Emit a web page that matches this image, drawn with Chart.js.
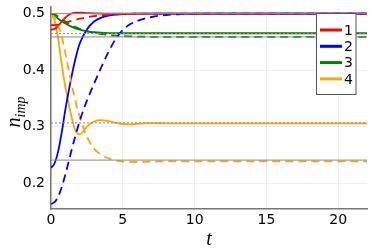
<!DOCTYPE html>
<html>
<head>
<meta charset="utf-8">
<script src="https://cdn.jsdelivr.net/npm/chart.js@4.4.1/dist/chart.umd.min.js"></script>
<style>
  html, body { margin: 0; padding: 0; background: #fff; }
  #wrap { width: 374px; height: 249px; position: relative; }
</style>
</head>
<body>
<div id="wrap"><canvas id="c" width="374" height="249"></canvas></div>
<script>
'use strict';

// time grid shared by all curves
const times = [0, 0.25, 0.5, 0.75, 1, 1.25, 1.5, 1.75, 2, 2.5, 3, 3.5, 4, 4.5, 5, 5.5, 6, 6.5, 7, 8, 9, 10, 12, 15, 18, 22];

// solid curves
const red1   = [0.4717, 0.473, 0.478, 0.486, 0.493, 0.498, 0.5008, 0.5015, 0.5015, 0.501, 0.5005, 0.5002, 0.5, 0.5, 0.5, 0.5, 0.5, 0.5, 0.5, 0.5, 0.5, 0.5, 0.5, 0.5, 0.5, 0.5];
const blue2  = [0.2265, 0.235, 0.256, 0.29, 0.33, 0.365, 0.397, 0.425, 0.447, 0.472, 0.486, 0.493, 0.4965, 0.4983, 0.4992, 0.4996, 0.4998, 0.5, 0.5, 0.5, 0.5, 0.5, 0.5, 0.5, 0.5, 0.5];
const green3 = [0.5, 0.496, 0.491, 0.4865, 0.4825, 0.479, 0.476, 0.4735, 0.4715, 0.4685, 0.467, 0.4661, 0.4656, 0.4653, 0.4652, 0.4652, 0.4652, 0.4652, 0.4652, 0.4652, 0.4652, 0.4652, 0.4652, 0.4652, 0.4652, 0.4652];
const orange4 = [0.5, 0.488, 0.455, 0.41, 0.37, 0.338, 0.31, 0.29, 0.286, 0.3, 0.309, 0.3115, 0.3095, 0.3065, 0.3045, 0.304, 0.3047, 0.3057, 0.306, 0.3057, 0.3055, 0.3055, 0.3055, 0.3055, 0.3055, 0.3055];

// dashed curves
const red1d   = [0.4795, 0.4797, 0.4805, 0.482, 0.4838, 0.4858, 0.4878, 0.4895, 0.491, 0.4935, 0.4955, 0.497, 0.498, 0.4988, 0.4993, 0.4996, 0.4998, 0.4999, 0.5, 0.5, 0.5, 0.5, 0.5, 0.5, 0.5, 0.5];
const blue2d  = [0.163, 0.166, 0.176, 0.193, 0.215, 0.24, 0.265, 0.288, 0.31, 0.346, 0.376, 0.405, 0.432, 0.455, 0.471, 0.481, 0.487, 0.491, 0.494, 0.4975, 0.499, 0.4997, 0.5, 0.5, 0.5, 0.5];
const green3d = [0.5, 0.4985, 0.495, 0.4905, 0.486, 0.482, 0.4785, 0.4755, 0.473, 0.469, 0.466, 0.4638, 0.4622, 0.461, 0.4602, 0.4597, 0.4593, 0.459, 0.4589, 0.4588, 0.4587, 0.4587, 0.4587, 0.4587, 0.4587, 0.4587];
const orange4d = [0.5, 0.494, 0.48, 0.46, 0.43, 0.398, 0.368, 0.34, 0.318, 0.282, 0.261, 0.25, 0.2435, 0.2398, 0.238, 0.2373, 0.2372, 0.2375, 0.2378, 0.2383, 0.2385, 0.2385, 0.2385, 0.2385, 0.2385, 0.2385];

// horizontal reference levels
const refSolid = [0.5, 0.4587, 0.2406];
const refDotted = [0.4647, 0.3065];

const xTicks = [0, 5, 10, 15, 20];
const yTicks = [0.2, 0.3, 0.4, 0.5];
const legendLabels = ['1', '2', '3', '4'];
const colors = ['#ff0000', '#0000ff', '#008000', '#ffa500'];

const xMin = 0, xMax = 22, yMin = 0.154, yMax = 0.5117;

const pts = arr => times.map((t, i) => ({ x: t, y: arr[i] }));
const hline = v => [{ x: xMin, y: v }, { x: xMax, y: v }];

const datasets = [];
refSolid.forEach(v => datasets.push({ data: hline(v), borderColor: '#8a8a8a', borderWidth: 1, pointRadius: 0 }));
refDotted.forEach(v => datasets.push({ data: hline(v), borderColor: '#8a8a8a', borderWidth: 1, borderDash: [2, 2], pointRadius: 0 }));
[red1d, blue2d, green3d, orange4d].forEach((a, i) => datasets.push({
  data: pts(a), borderColor: colors[i], borderWidth: 1.8, borderDash: [8, 5], pointRadius: 0, cubicInterpolationMode: 'monotone'
}));
[red1, blue2, green3, orange4].forEach((a, i) => datasets.push({
  data: pts(a), borderColor: colors[i], borderWidth: 1.8, pointRadius: 0, cubicInterpolationMode: 'monotone'
}));

const labelsPlugin = {
  id: 'labels',
  afterDraw(chart) {
    const { ctx, chartArea } = chart;
    ctx.save();
    ctx.fillStyle = '#000';
    // x label
    ctx.font = 'italic 20px "Liberation Serif"';
    ctx.textAlign = 'center';
    ctx.textBaseline = 'alphabetic';
    ctx.fillText('t', (chartArea.left + chartArea.right) / 2, 245);
    // y label, rotated, with subscript
    ctx.translate(20, 112);
    ctx.rotate(-Math.PI / 2);
    ctx.textAlign = 'left';
    ctx.font = 'italic 20px "Liberation Serif"';
    const nW = ctx.measureText('n').width;
    ctx.font = 'italic 14px "Liberation Serif"';
    const sW = ctx.measureText('imp').width;
    const x0 = -(nW + sW) / 2;
    ctx.font = 'italic 20px "Liberation Serif"';
    ctx.fillText('n', x0, 0);
    ctx.font = 'italic 14px "Liberation Serif"';
    ctx.fillText('imp', x0 + nW, 5);
    ctx.restore();

    // legend box
    ctx.save();
    const bx = 316.5, by = 13.5, bw = 39.5, bh = 81;
    ctx.fillStyle = '#fff';
    ctx.fillRect(bx, by, bw, bh);
    ctx.strokeStyle = '#555';
    ctx.lineWidth = 1;
    ctx.strokeRect(bx, by, bw, bh);
    ctx.font = '14px "DejaVu Sans"';
    ctx.textBaseline = 'middle';
    ctx.textAlign = 'left';
    legendLabels.forEach((lab, i) => {
      const y = 30 + i * 16.3;
      ctx.strokeStyle = colors[i];
      ctx.lineWidth = 3;
      ctx.beginPath();
      ctx.moveTo(320, y);
      ctx.lineTo(342, y);
      ctx.stroke();
      ctx.fillStyle = '#000';
      ctx.fillText(lab, 344, y + 1);
    });
    ctx.restore();
  }
};

new Chart(document.getElementById('c'), {
  type: 'line',
  data: { datasets },
  options: {
    responsive: false,
    animation: false,
    layout: { padding: { top: 7, right: 7, left: 0, bottom: 0 } },
    plugins: { legend: { display: false }, tooltip: { enabled: false } },
    scales: {
      x: {
        type: 'linear', min: xMin, max: xMax,
        afterBuildTicks: s => { s.ticks = xTicks.map(v => ({ value: v })); },
        afterFit: s => { s.height = 40; s.paddingLeft = 0; s.paddingRight = 0; },
        ticks: { color: '#000', font: { family: 'DejaVu Sans', size: 14 }, padding: 0, maxRotation: 0 },
        grid: { color: 'rgba(0,0,0,0.07)', tickLength: 3, tickColor: 'rgba(0,0,0,0)' },
        border: { color: '#777', width: 1.5 }
      },
      y: {
        type: 'linear', min: yMin, max: yMax,
        afterBuildTicks: s => { s.ticks = yTicks.map(v => ({ value: v })); },
        afterFit: s => { s.width = 51; s.paddingTop = 0; s.paddingBottom = 0; },
        ticks: { color: '#000', font: { family: 'DejaVu Sans', size: 14 }, padding: 4, callback: v => v.toFixed(1) },
        grid: { color: 'rgba(0,0,0,0.07)', tickLength: 2, tickColor: 'rgba(0,0,0,0)' },
        border: { color: '#777', width: 1.5 }
      }
    }
  },
  plugins: [labelsPlugin]
});
</script>
</body>
</html>
